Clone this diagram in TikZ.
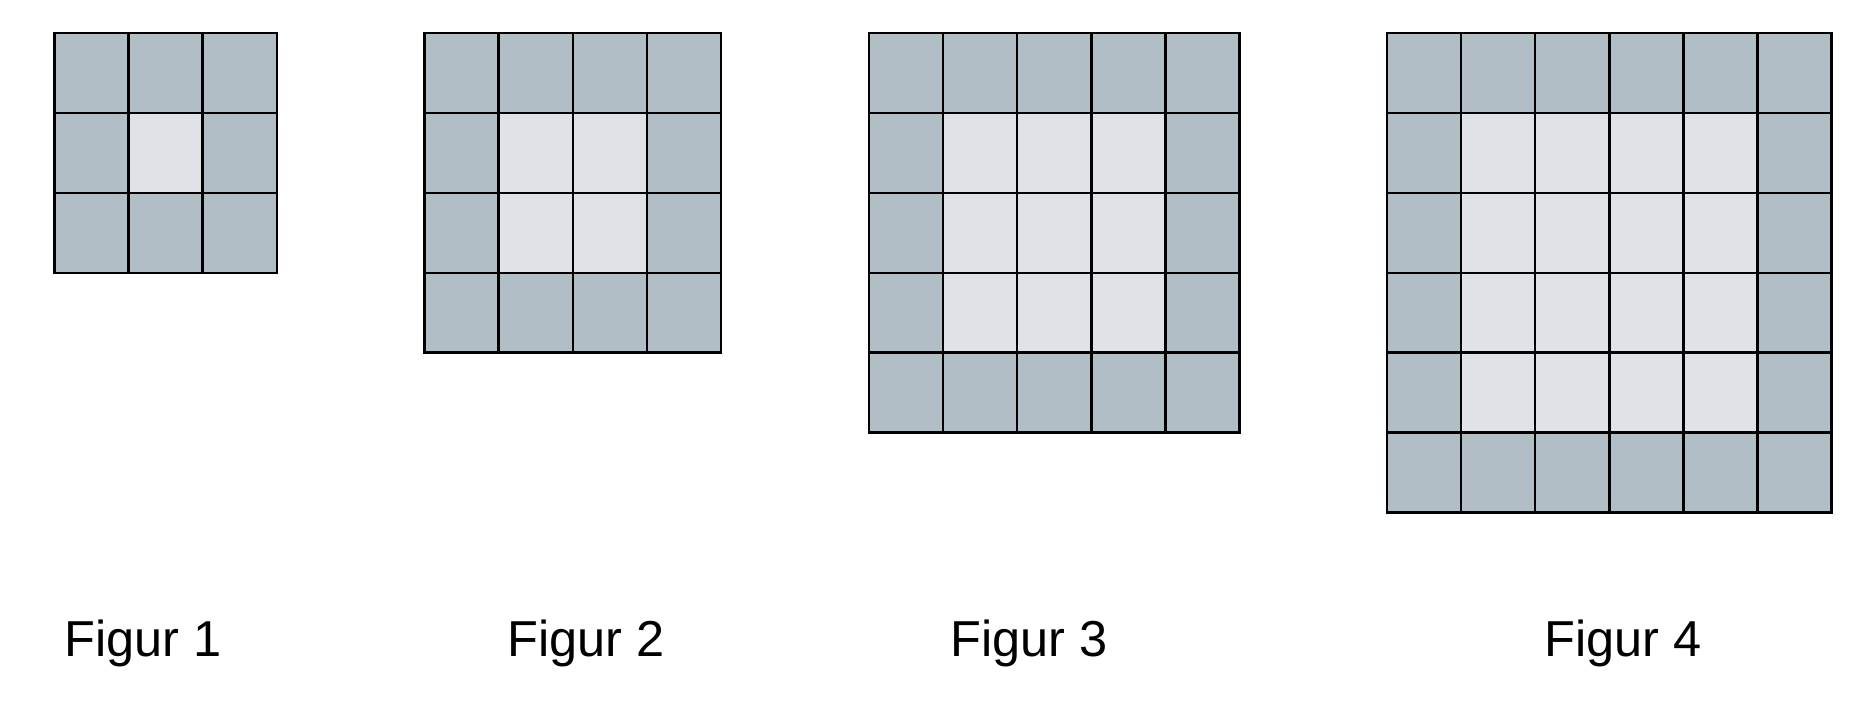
\documentclass[tikz,border=0pt]{standalone}
\usepackage{fontspec}
\setmainfont{Liberation Sans}
\definecolor{edgecell}{HTML}{B2BEC5}
\definecolor{innercell}{HTML}{DFE2E7}
\tikzset{
  gridline/.style={draw=black, line width=2.4pt, line cap=rect},
  figlabel/.style={anchor=base west, inner sep=0pt, font=\fontsize{50.5}{60}\selectfont},
}
\newcommand{\figgrid}[2]{% #1 left x, #2 number of cells
  \pgfmathsetmacro{\gw}{#2*74.1}
  \pgfmathsetmacro{\gh}{#2*79.9}
  \fill[edgecell] (#1,33) rectangle ++(\gw,\gh);
  \fill[innercell] (#1+74.1,33+79.9) rectangle (#1+\gw-74.1,33+\gh-79.9);
  \foreach \k in {0,...,#2} {
    \draw[gridline] (#1+\k*74.1,33) -- ++(0,\gh);
    \draw[gridline] (#1,33+\k*79.9) -- ++(\gw,0);
  }
}
\begin{document}
\begin{tikzpicture}[x=1pt,y=-1pt]
\useasboundingbox (0,0) rectangle (1854,706);
\figgrid{54.4}{3}
\figgrid{424.5}{4}
\figgrid{869}{5}
\figgrid{1387}{6}
\node[figlabel] (lab1) at (64,656) {Figur 1};
\node[figlabel] (lab2) at (507,656) {Figur 2};
\node[figlabel] (lab3) at (950.5,656) {Figur 3};
\node[figlabel] (lab4) at (1544,656) {Figur 4};
\end{tikzpicture}
\end{document}
